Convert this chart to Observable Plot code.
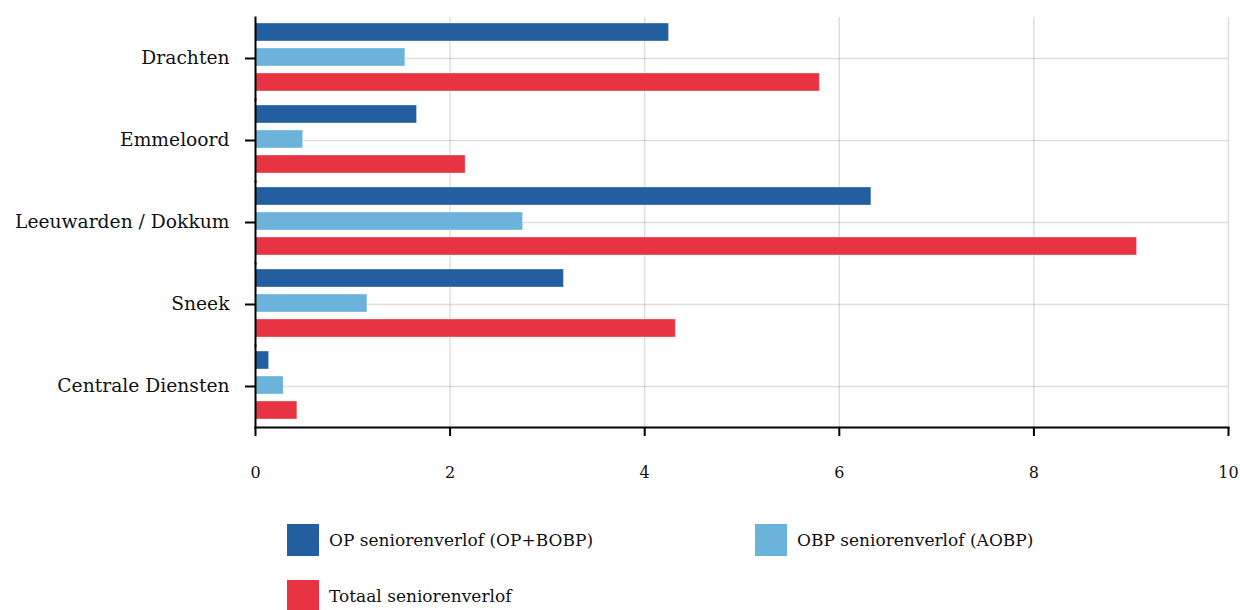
<!DOCTYPE html>
<html>
<head>
<meta charset="utf-8">
<script src="https://cdn.jsdelivr.net/npm/d3@7"></script>
<script src="https://cdn.jsdelivr.net/npm/@observablehq/plot@0.6"></script>
<style>
  html, body { margin: 0; padding: 0; background: #fff; }
  body { width: 1240px; height: 610px; overflow: hidden; font-family: "DejaVu Serif", serif; color: #111; }
  #legend { display: grid; grid-template-columns: 468px 468px; row-gap: 24px; padding-left: 287px; margin-top: 29px; }
  .item { display: flex; align-items: center; height: 32px; font-size: 17px; }
  .sw { width: 32px; height: 32px; margin-right: 10px; flex: none; }
</style>
</head>
<body>
<div id="chart"></div>
<div id="legend"></div>
<script>
const categories = ["Drachten", "Emmeloord", "Leeuwarden / Dokkum", "Sneek", "Centrale Diensten"];
const seriesNames = ["OP seniorenverlof (OP+BOBP)", "OBP seniorenverlof (AOBP)", "Totaal seniorenverlof"];
const opValues = [4.25, 1.66, 6.33, 3.17, 0.14];
const obpValues = [1.54, 0.49, 2.75, 1.15, 0.29];
const totaalValues = [5.80, 2.16, 9.06, 4.32, 0.43];
const xTicks = [0, 2, 4, 6, 8, 10];
const colors = ["#225ea0", "#6bb3db", "#e83442"];

const seriesValues = [opValues, obpValues, totaalValues];
const data = [];
categories.forEach((c, i) => {
  seriesNames.forEach((s, j) => data.push({category: c, series: s, value: seriesValues[j][i]}));
});

const chart = Plot.plot({
  width: 1240,
  height: 495,
  marginTop: 15,
  marginBottom: 66,
  marginLeft: 255,
  marginRight: 12,
  style: {fontFamily: "DejaVu Serif, serif", fontSize: "17px", color: "#111"},
  x: {domain: [0, 10], axis: null},
  y: {domain: seriesNames, paddingInner: 0.28, paddingOuter: 0.22, align: 0.4, axis: null},
  fy: {domain: categories, padding: 0, axis: null, label: null},
  color: {domain: seriesNames, range: colors},
  marks: [
    Plot.gridX({ticks: xTicks.slice(1), stroke: "#000", strokeOpacity: 0.13, strokeWidth: 1.5}),
    Plot.gridFy({stroke: "#000", strokeOpacity: 0.13, strokeWidth: 1.5}),
    Plot.barX(data, {fy: "category", y: "series", x: "value", fill: "series", stroke: "#fff", strokeOpacity: 0.35, strokeWidth: 1}),
    Plot.frame({anchor: "left", strokeWidth: 2, stroke: "#000"}),
    Plot.frame({anchor: "bottom", facetAnchor: "bottom", strokeWidth: 2, stroke: "#000"}),
    Plot.axisX({anchor: "bottom", ticks: xTicks, tickSize: 9, tickPadding: 30, strokeWidth: 2, stroke: "#000", fontSize: 16, label: null}),
    Plot.axisFy({anchor: "left", tickSize: 10, tickPadding: 16, strokeWidth: 2, stroke: "#000", fontSize: 18.7, label: null})
  ]
});
document.getElementById("chart").appendChild(chart);

const legend = document.getElementById("legend");
seriesNames.forEach((s, j) => {
  const item = document.createElement("div");
  item.className = "item";
  const sw = document.createElement("span");
  sw.className = "sw";
  sw.style.background = colors[j];
  const t = document.createElement("span");
  t.textContent = s;
  item.appendChild(sw);
  item.appendChild(t);
  legend.appendChild(item);
});
</script>
</body>
</html>
